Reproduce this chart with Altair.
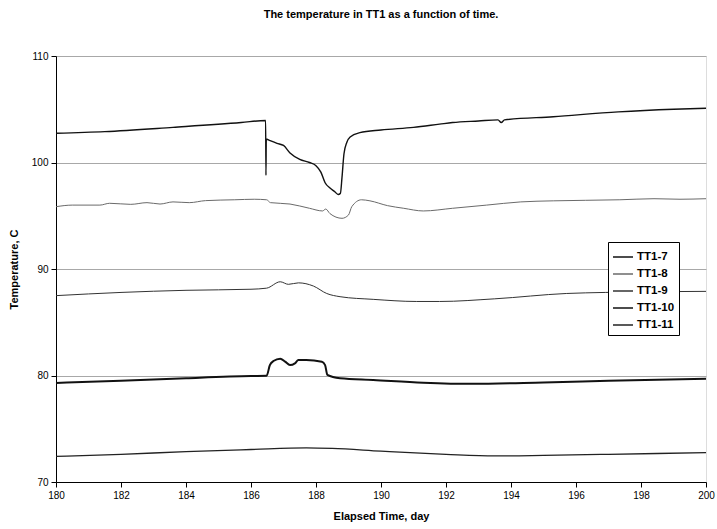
import altair as alt
import pandas as pd

series_names = ["TT1-7", "TT1-8", "TT1-9", "TT1-10", "TT1-11"]

days_7 = [180.0, 181.5, 183.6, 185.7, 186.45, 186.46, 186.47, 186.55, 186.8, 187.0, 187.2, 187.5,
          187.8, 188.0, 188.15, 188.28, 188.43, 188.58, 188.68, 188.75, 188.8, 188.86, 188.95, 189.05,
          189.35, 190.0, 191.0, 191.8, 192.2, 193.0, 193.6, 193.7, 193.8, 195.3, 197.3, 199.0, 200.0]
vals_7 = [102.75, 102.9, 103.3, 103.75, 103.95, 98.8, 102.2, 102.1, 101.8, 101.6, 100.9, 100.3,
          100.0, 99.7, 99.1, 98.1, 97.6, 97.25, 97.0, 97.1, 98.6, 100.8, 101.9, 102.4,
          102.8, 103.05, 103.3, 103.6, 103.75, 103.9, 104.0, 103.75, 104.0, 104.3, 104.75, 105.0, 105.1]

days_8 = [180.0, 180.5, 181.35, 181.65, 182.3, 182.8, 183.2, 183.6, 184.1, 184.6, 185.5, 186.1,
          186.48, 186.6, 187.2, 187.8, 188.2, 188.3, 188.43, 188.8, 189.0, 189.1, 189.4, 189.66,
          190.2, 190.7, 191.3, 192.2, 193.25, 194.3, 195.3, 196.3, 197.35, 198.4, 199.2, 200.0]
vals_8 = [95.85, 96.0, 96.0, 96.17, 96.07, 96.23, 96.1, 96.3, 96.23, 96.42, 96.5, 96.55,
          96.5, 96.23, 96.1, 95.7, 95.45, 95.63, 95.2, 94.76, 95.07, 95.85, 96.5, 96.4,
          95.95, 95.7, 95.45, 95.7, 96.0, 96.3, 96.4, 96.45, 96.5, 96.6, 96.55, 96.6]

days_9 = [180.0, 182.0, 184.0, 186.0, 186.48, 186.9, 187.15, 187.46, 187.92, 188.33, 188.74,
          189.76, 191.1, 191.8, 193.5, 195.7, 196.9, 200.0]
vals_9 = [87.5, 87.8, 88.0, 88.1, 88.2, 88.8, 88.56, 88.7, 88.4, 87.7, 87.4,
          87.15, 86.95, 86.95, 87.2, 87.7, 87.8, 87.9]

days_10 = [180.0, 182.0, 184.0, 186.0, 186.48, 186.58, 186.69, 186.9, 187.05, 187.2, 187.35,
           187.46, 187.7, 188.18, 188.28, 188.35, 188.74, 189.76, 191.3, 192.8, 195.0, 197.0, 200.0]
vals_10 = [79.3, 79.5, 79.75, 79.95, 79.97, 80.98, 81.36, 81.58, 81.3, 80.98, 81.14,
           81.46, 81.46, 81.3, 80.98, 80.05, 79.74, 79.58, 79.33, 79.22, 79.35, 79.5, 79.7]

days_11 = [180.0, 182.0, 184.0, 186.0, 187.7, 188.5, 190.0, 192.0, 193.5, 195.0, 197.0, 200.0]
vals_11 = [72.4, 72.6, 72.85, 73.05, 73.2, 73.15, 72.9, 72.6, 72.45, 72.5, 72.6, 72.75]

series_days = [days_7, days_8, days_9, days_10, days_11]
series_vals = [vals_7, vals_8, vals_9, vals_10, vals_11]
line_colors = ["#111111", "#6a6a6a", "#333333", "#111111", "#222222"]
line_widths = [1.4, 1.0, 1.0, 2.0, 1.3]

x_ticks = list(range(180, 201, 2))
y_ticks = [70, 80, 90, 100, 110]

rows = []
for name, ds, vs, w in zip(series_names, series_days, series_vals, line_widths):
    for i, (d, v) in enumerate(zip(ds, vs)):
        rows.append({"series": name, "day": d, "temp": v, "order": i, "w": w})
df = pd.DataFrame(rows)

FONT = "Liberation Sans"

chart = alt.Chart(df).mark_line(interpolate="monotone").encode(
    x=alt.X("day:Q", title="Elapsed Time, day",
            scale=alt.Scale(domain=[180, 200], nice=False, zero=False),
            axis=alt.Axis(values=x_ticks, format="d", grid=False, tickSize=5,
                          labelPadding=3, titlePadding=10, domainColor="black",
                          tickColor="black", labelFlush=False)),
    y=alt.Y("temp:Q", title="Temperature, C",
            scale=alt.Scale(domain=[70, 110], nice=False, zero=False),
            axis=alt.Axis(values=y_ticks, format="d", grid=True, gridColor="#a8a8a8",
                          gridWidth=1, tickSize=5, labelPadding=3, titlePadding=12,
                          domainColor="black", tickColor="black", labelFlush=False)),
    color=alt.Color("series:N", title=None,
                    scale=alt.Scale(domain=series_names, range=line_colors),
                    legend=alt.Legend(orient="none", legendX=552, legendY=186,
                                      symbolType="stroke", symbolSize=400,
                                      symbolStrokeWidth=1.5, labelFontSize=11.5,
                                      labelFontWeight="bold", labelFont=FONT,
                                      rowPadding=0, padding=4, strokeColor="black",
                                      fillColor="white", labelColor="black",
                                      labelOffset=3, labelLimit=60)),
    strokeWidth=alt.StrokeWidth("w:Q", scale=None),
    order="order:Q",
).properties(
    width=650, height=426,
    title=alt.TitleParams("The temperature in TT1 as a function of time.",
                          fontSize=11, fontWeight="bold", font=FONT, anchor="middle",
                          offset=31, color="black"),
    autosize=alt.AutoSizeParams(type="none"),
    padding={"left": 56, "top": 56, "right": 11, "bottom": 47},
).configure_axis(
    labelFont=FONT, labelFontSize=11, labelColor="black",
    titleFont=FONT, titleFontSize=10, titleFontWeight="bold", titleColor="black",
).configure_view(
    stroke="black", strokeWidth=1
).configure(background="white")

chart.save("out.html", embed_options={"renderer": "svg", "actions": False})
